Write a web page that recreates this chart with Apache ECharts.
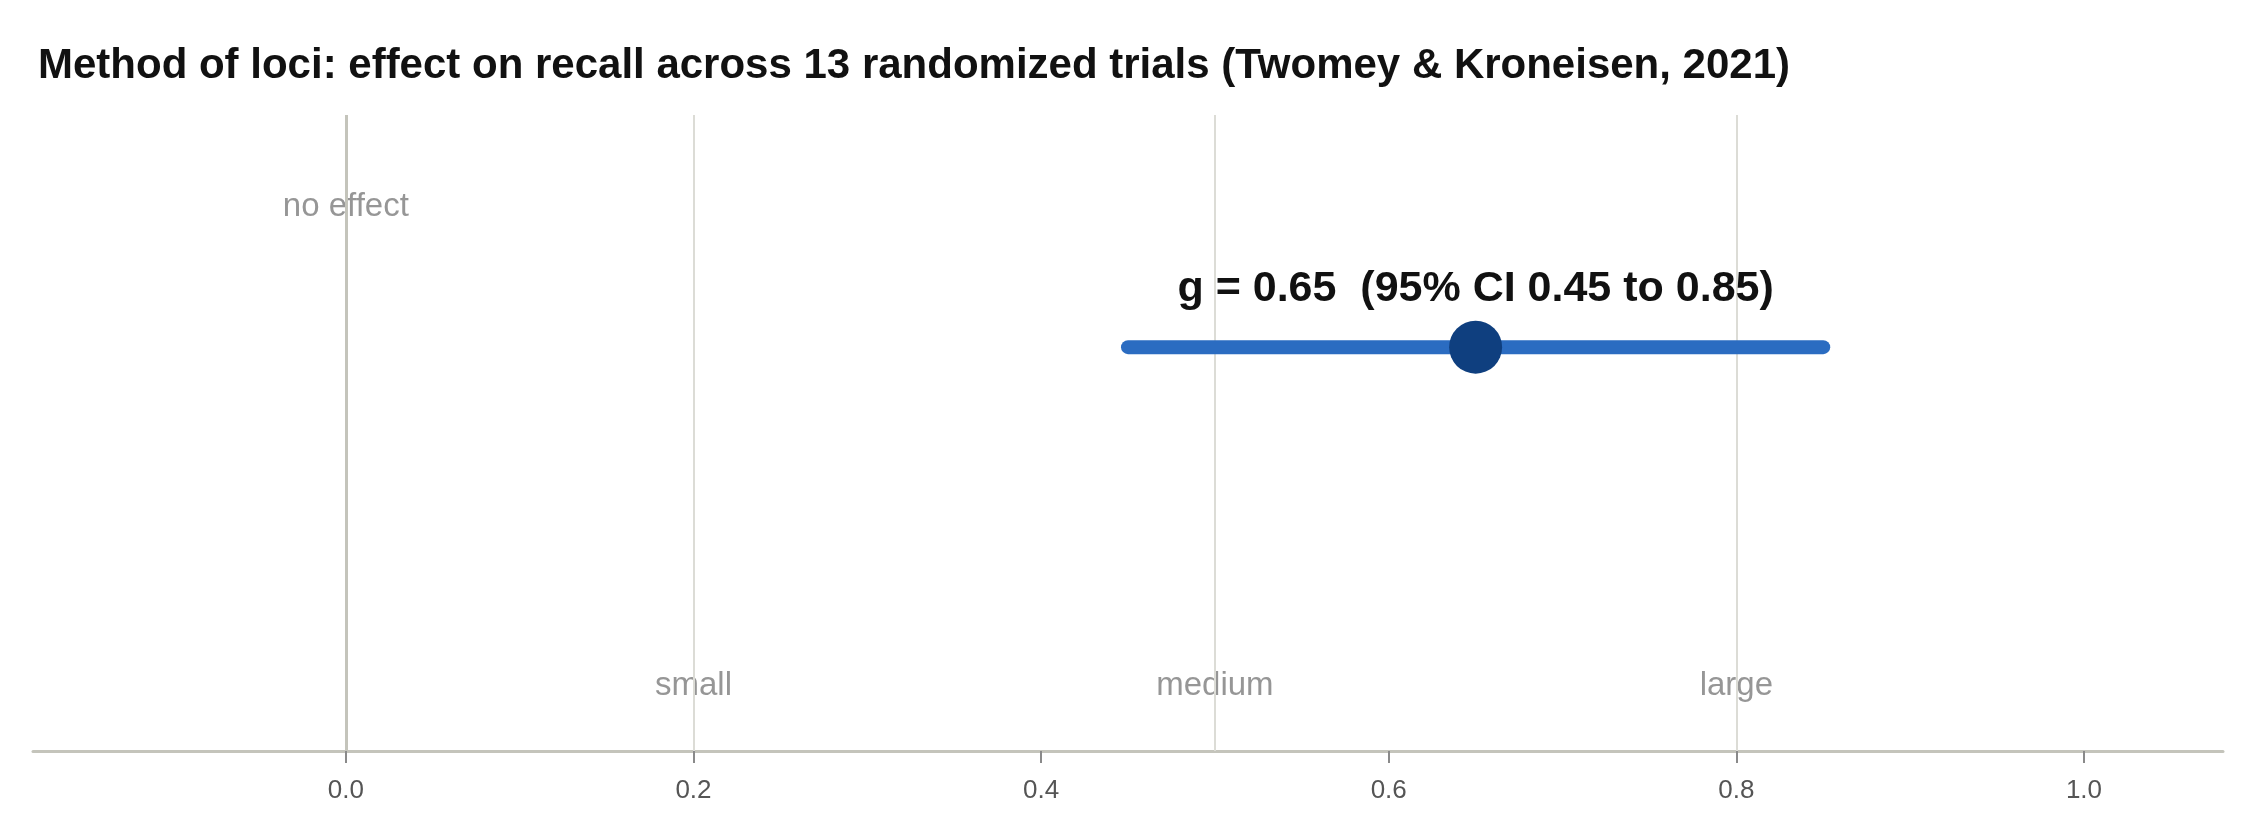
<!DOCTYPE html>
<html>
<head>
<meta charset="utf-8">
<script src="https://cdn.jsdelivr.net/npm/echarts@6/dist/echarts.min.js"></script>
<style>
  html, body { margin: 0; padding: 0; background: #fff; }
  #chart { width: 2256px; height: 840px; }
</style>
</head>
<body>
<div id="chart"></div>
<script>
  // pooled effect (Hedges g) and its 95% CI
  var estimate = [0.65];
  var ciLow    = [0.45];
  var ciHigh   = [0.85];

  // benchmark reference lines
  var refValues = [0, 0.2, 0.5, 0.8];
  var refNames  = ['no effect', 'small', 'medium', 'large'];

  // x axis tick labels
  var tickValues = [0, 0.2, 0.4, 0.6, 0.8, 1.0];

  var FONT = '"Liberation Sans", Arial, Helvetica, sans-serif';
  var ROW = 0.635;              // vertical slot of the single estimate
  var LABEL_TOP = 0.855, LABEL_BOTTOM = 0.102;

  var chart = echarts.init(document.getElementById('chart'));

  // reference lines: zero is drawn darker than the benchmarks
  var refLines = refValues.map(function(v) {
    return {
      xAxis: v,
      lineStyle: v === 0
        ? { color: '#c4c4bb', width: 3, type: 'solid' }
        : { color: '#dcdcd6', width: 2, type: 'solid' }
    };
  });

  var refLabels = refValues.map(function(v, i) {
    return { value: [v, i === 0 ? LABEL_TOP : LABEL_BOTTOM], name: refNames[i] };
  });

  var option = {
    backgroundColor: '#ffffff',
    animation: false,
    title: {
      text: 'Method of loci: effect on recall across 13 randomized trials (Twomey & Kroneisen, 2021)',
      left: 33, top: 40,
      textStyle: { fontFamily: FONT, fontSize: 42, fontWeight: 'bold', color: '#111' }
    },
    grid: { left: 33, right: 33, top: 115, bottom: 89 },
    xAxis: {
      type: 'value', min: -0.18, max: 1.08,
      axisLine: { show: true, onZero: false, lineStyle: { color: '#c4c4bb', width: 3 } },
      axisTick: { show: true, customValues: tickValues, length: 12, lineStyle: { color: '#8a8a8a', width: 2 } },
      axisLabel: {
        customValues: tickValues, margin: 27,
        fontFamily: FONT, fontSize: 26, color: '#555',
        formatter: function(v) { return v.toFixed(1); }
      },
      splitLine: { show: false }
    },
    yAxis: {
      type: 'value', min: 0, max: 1, show: false
    },
    series: [
      {
        // reference lines
        type: 'scatter', symbolSize: 0, silent: true, data: [],
        markLine: {
          silent: true, symbol: 'none', label: { show: false },
          data: refLines
        },
        zlevel: 0
      },
      {
        // reference line labels
        type: 'scatter', symbolSize: 0, silent: true,
        data: refLabels,
        label: {
          show: true, position: 'inside', formatter: '{b}',
          fontFamily: FONT, fontSize: 33, color: '#7c7c7c'
        },
        zlevel: 0, z: 1
      },
      {
        // confidence interval
        type: 'line', silent: true, symbol: 'none',
        data: [[ciLow[0], ROW], [ciHigh[0], ROW]],
        lineStyle: { color: '#2b6cc1', width: 14, cap: 'round' },
        zlevel: 1, z: 2
      },
      {
        // point estimate
        type: 'scatter', silent: true, symbolSize: 53,
        data: estimate.map(function(g, i) { return [g, ROW, ciLow[i], ciHigh[i]]; }),
        itemStyle: { color: '#0f3f7f', opacity: 1 },
        label: {
          show: true, position: 'top', distance: 10,
          fontFamily: FONT, fontSize: 43, fontWeight: 'bold', color: '#111',
          formatter: function(p) {
            var d = p.value;
            return 'g = ' + d[0].toFixed(2) + '  (95% CI ' + d[2].toFixed(2) + ' to ' + d[3].toFixed(2) + ')';
          }
        },
        zlevel: 1, z: 3
      }
    ]
  };
  chart.setOption(option);
</script>
</body>
</html>
